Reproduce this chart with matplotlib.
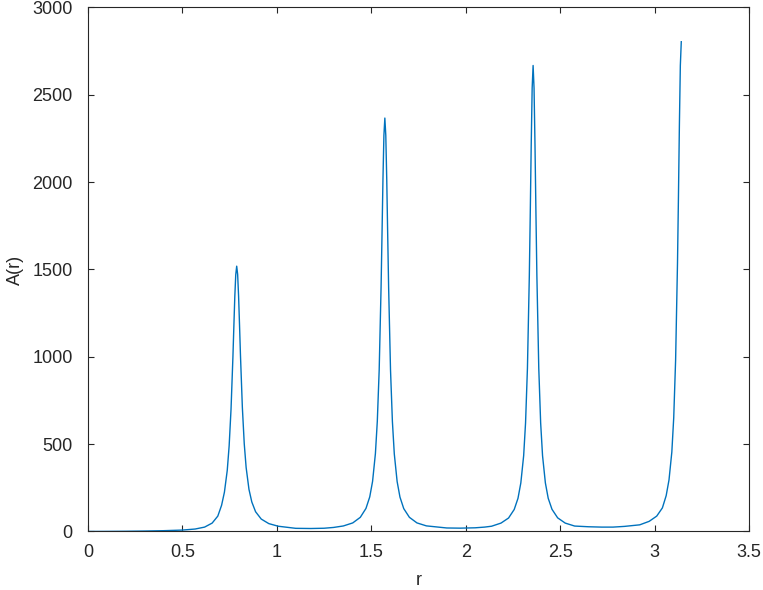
import matplotlib.pyplot as plt

# values
r_vals = [0, 0.1, 0.2, 0.3, 0.4, 0.5, 0.5675, 0.6175, 0.6575, 0.6875, 0.7075,
          0.7225, 0.7375, 0.7475, 0.7575, 0.7675, 0.7725, 0.7775, 0.7825, 0.7875,
          0.7925, 0.7975, 0.8025, 0.8075, 0.8175, 0.8275, 0.8375, 0.8525, 0.8675,
          0.8875, 0.9175, 0.9575, 1.0075, 1.1, 1.18, 1.25, 1.3,
          1.352, 1.402, 1.442, 1.472, 1.492, 1.507, 1.522, 1.532, 1.542, 1.552,
          1.557, 1.562, 1.567, 1.572, 1.577, 1.582, 1.587, 1.592, 1.602, 1.612,
          1.622, 1.637, 1.652, 1.672, 1.702, 1.742, 1.792, 1.9, 1.97, 2.05, 2.1,
          2.137, 2.187, 2.227, 2.257, 2.277, 2.292, 2.307, 2.317, 2.327, 2.337,
          2.342, 2.347, 2.352, 2.357, 2.362, 2.367, 2.372, 2.377, 2.387, 2.397,
          2.407, 2.422, 2.437, 2.457, 2.487, 2.527, 2.577, 2.65, 2.72, 2.78, 2.84,
          2.9216, 2.9716, 3.0116, 3.0416, 3.0616, 3.0766, 3.0916, 3.1016, 3.1116,
          3.1216, 3.1266, 3.1316, 3.1366, 3.1416]
a_vals = [0, 0.5, 1.2, 2.5, 4.5, 8, 14, 25, 48, 88, 150,
          225, 350, 490, 700, 1000, 1175, 1345, 1470, 1519,
          1472, 1348, 1182, 1008, 710, 502, 366, 241, 169,
          113, 71, 45, 30, 18, 17, 18.5, 23,
          31.5, 49, 81, 132, 198, 287, 446, 630, 925, 1398,
          1703, 2018, 2268, 2367, 2268, 2017, 1702, 1397, 924, 629,
          444, 286, 197, 131, 81, 49, 32, 20, 19, 21, 25,
          30, 48, 77, 126, 190, 278, 434, 621, 935, 1464,
          1824, 2213, 2538, 2668, 2538, 2213, 1824, 1464, 935, 621,
          434, 278, 190, 127, 78, 48, 31, 27, 25, 25, 29,
          38, 58, 88, 135, 205, 295, 455, 651, 981,
          1537, 1915, 2325, 2667, 2804]

plt.rcParams['font.family'] = ['Liberation Sans', 'DejaVu Sans']
plt.rcParams['font.size'] = 13

fig = plt.figure(figsize=(7.63, 5.90), dpi=100)
ax = fig.add_axes([0.1153, 0.0992, 0.8663, 0.8881])

ax.plot(r_vals, a_vals, color='#0072BD', linewidth=1.0)

ax.set_xlim(0, 3.5)
ax.set_ylim(0, 3000)
ax.set_xticks([0, 0.5, 1, 1.5, 2, 2.5, 3, 3.5])
ax.set_xticklabels(['0', '0.5', '1', '1.5', '2', '2.5', '3', '3.5'])
ax.set_yticks([0, 500, 1000, 1500, 2000, 2500, 3000])

ax.set_xlabel('r', color='#262626', labelpad=8)
ax.set_ylabel('A(r)', color='#262626', labelpad=6)

for s in ax.spines.values():
    s.set_color('#262626')
    s.set_linewidth(0.8)
ax.tick_params(direction='in', length=4.5, width=0.8, colors='#262626',
               top=True, right=True, pad=9)
ax.tick_params(axis='y', pad=11)

fig.savefig('out.png', dpi=100)
